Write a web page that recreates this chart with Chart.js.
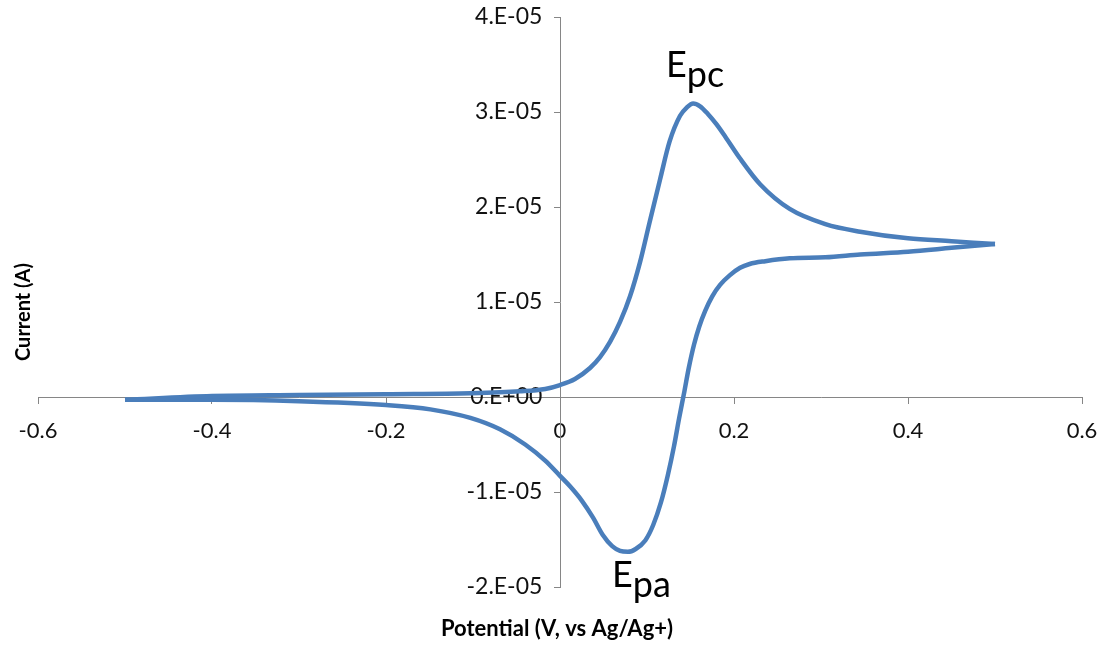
<!DOCTYPE html>
<html>
<head>
<meta charset="utf-8">
<script src="https://cdn.jsdelivr.net/npm/chart.js@4.4.0/dist/chart.umd.min.js"></script>
<style>
  html, body { margin: 0; padding: 0; background: #fff; }
  #wrap { width: 1107px; height: 645px; }
</style>
</head>
<body>
<div id="wrap"><canvas id="cv" width="1107" height="645"></canvas></div>
<script>
// forward scan (upper branch), potential in V, current in uA
const fwd_potential = [-0.5, -0.4, -0.3, -0.2, -0.103, -0.046, -0.017, 0, 0.0172, 0.0345, 0.046, 0.0575, 0.069,
    0.0805, 0.092, 0.103, 0.115, 0.126, 0.138, 0.146, 0.153, 0.161, 0.17, 0.18, 0.19, 0.207, 0.23, 0.264, 0.305,
    0.345, 0.4, 0.45, 0.5];
const fwd_current = [-0.3, 0.1, 0.2, 0.3, 0.4, 0.6, 0.85, 1.26, 1.9, 3.05, 4.2, 5.8, 7.9,
    10.6, 14.2, 18.4, 22.9, 26.9, 29.6, 30.5, 30.9, 30.6, 29.8, 28.7, 27.4, 25.1, 22.4, 19.8, 18.2,
    17.4, 16.7, 16.4, 16.1];

// reverse scan (lower branch)
const rev_potential = [0.5, 0.45, 0.4, 0.345, 0.305, 0.264, 0.236, 0.218, 0.207, 0.195, 0.184, 0.175, 0.167,
    0.16, 0.154, 0.148, 0.143, 0.137, 0.131, 0.124, 0.116, 0.107, 0.098, 0.087, 0.078, 0.069, 0.06, 0.049,
    0.038, 0.025, 0.0115, 0, -0.017, -0.04, -0.069, -0.103, -0.149, -0.2, -0.3, -0.4, -0.5];
const rev_current = [16.1, 15.7, 15.3, 15.0, 14.7, 14.6, 14.3, 14.0, 13.6, 12.8, 11.8, 10.6, 9.1,
    7.4, 5.5, 3.05, 0.6, -2.2, -5.2, -8.2, -11.1, -13.5, -15.1, -16.0, -16.3, -16.2, -15.7, -14.5,
    -12.7, -10.9, -9.4, -8.3, -6.7, -5.0, -3.4, -2.2, -1.3, -0.85, -0.45, -0.3, -0.3];

const x_ticks = [-0.6, -0.4, -0.2, 0, 0.2, 0.4, 0.6];
const y_ticks = [-2e-5, -1e-5, 0, 1e-5, 2e-5, 3e-5, 4e-5];

const x_title = "Potential (V, vs Ag/Ag+)";
const y_title = "Current (A)";

const lineColor = "rgb(74, 126, 187)";
const axisColor = "#868686";

function toPoints(xs, ys) {
    let pts = [];
    for (let i = 0; i < xs.length; i++) {
        pts.push({ x: xs[i], y: ys[i] * 1e-6 });
    }
    return pts;
}

// Excel style "0.E+00" labels
function sciLabel(v) {
    let s = Number(v).toExponential(0); // e.g. "4e-5"
    let parts = s.split("e");
    let exp = parseInt(parts[1], 10);
    let sign = exp < 0 ? "-" : "+";
    let e = Math.abs(exp).toString().padStart(2, "0");
    // trailing spaces keep the label off the axis line (centre axis ignores ticks.padding)
    return parts[0] + ".E" + sign + e + "   ";
}

const textPlugin = {
    id: "texts",
    afterDraw(chart) {
        const ctx = chart.ctx;
        ctx.save();
        ctx.fillStyle = "#000";
        ctx.textBaseline = "alphabetic";

        // axis titles
        ctx.textAlign = "center";
        ctx.font = "bold 22px Lato";
        ctx.fillText(x_title, 557, 636);
        ctx.font = "bold 20px Lato";
        ctx.translate(30, 312);
        ctx.rotate(-Math.PI / 2);
        ctx.fillText(y_title, 0, 0);
        ctx.setTransform(1, 0, 0, 1, 0, 0);

        // peak labels
        ctx.textAlign = "left";
        ctx.font = "36px Lato";
        const drawSub = (x, y, main, sub) => {
            ctx.fillText(main, x, y);
            const w = ctx.measureText(main).width;
            ctx.fillText(sub, x + w, y + 10);
        };
        drawSub(666, 77, "E", "pc");
        drawSub(612, 587, "E", "pa");
        ctx.restore();
    },
};

const lineStyle = {
    showLine: true,
    borderColor: lineColor,
    borderWidth: 4.5,
    pointRadius: 0,
    cubicInterpolationMode: "monotone",
    fill: false,
};

const ctx = document.getElementById("cv").getContext("2d");
const chart = new Chart(ctx, {
    type: "scatter",
    data: {
        datasets: [
            Object.assign({ data: toPoints(fwd_potential, fwd_current) }, lineStyle),
            Object.assign({ data: toPoints(rev_potential, rev_current) }, lineStyle),
        ],
    },
    options: {
        responsive: false,
        animation: false,
        devicePixelRatio: 1,
        layout: { padding: { left: 38, top: 17, right: 25, bottom: 58 } },
        plugins: { legend: { display: false }, tooltip: { enabled: false } },
        scales: {
            x: {
                type: "linear",
                position: { y: 0 },
                min: -0.6,
                max: 0.6,
                afterBuildTicks: (axis) => { axis.ticks = x_ticks.map((v) => ({ value: v })); },
                afterFit: (axis) => { axis.paddingLeft = 0; axis.paddingRight = 0; },
                ticks: {
                    autoSkip: false,
                    maxRotation: 0,
                    padding: 15,
                    color: "#111",
                    font: { family: "Lato", size: 22 },
                    callback: (v) => Number(Number(v).toFixed(1)).toString(),
                },
                grid: { drawOnChartArea: false, color: axisColor, tickLength: 6, tickWidth: 1 },
                border: { display: true, color: axisColor, width: 1 },
            },
            y: {
                type: "linear",
                position: { x: 0 },
                min: -2e-5,
                max: 4e-5,
                afterBuildTicks: (axis) => { axis.ticks = y_ticks.map((v) => ({ value: v })); },
                afterFit: (axis) => { axis.paddingTop = 0; axis.paddingBottom = 0; },
                ticks: {
                    autoSkip: false,
                    padding: 0,
                    color: "#111",
                    font: { family: "Lato", size: 23 },
                    callback: (v) => sciLabel(v),
                },
                grid: { drawOnChartArea: false, color: axisColor, tickLength: 6, tickWidth: 1 },
                border: { display: true, color: axisColor, width: 1 },
            },
        },
    },
    plugins: [textPlugin],
});
</script>
</body>
</html>
